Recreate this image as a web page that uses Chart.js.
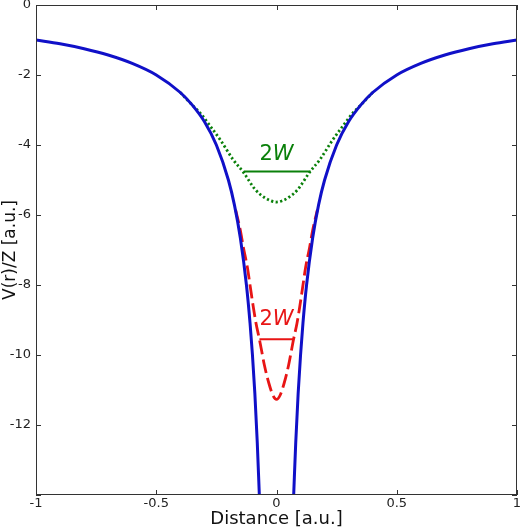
<!DOCTYPE html>
<html>
<head>
<meta charset="utf-8">
<script src="https://cdn.jsdelivr.net/npm/chart.js@4/dist/chart.umd.min.js"></script>
<style>
html, body { margin: 0; padding: 0; background: #fff; }
</style>
</head>
<body>
<canvas id="myChart" width="520" height="530"></canvas>
<script>
// Coulomb potential (left and right branch)
var blueLeftX = [-1, -0.9, -0.8, -0.7, -0.6, -0.5, -0.4, -0.35, -0.3, -0.25, -0.2, -0.175, -0.15, -0.125, -0.11, -0.1, -0.09, -0.08, -0.0714];
var blueLeftY = [-1, -1.11, -1.25, -1.43, -1.67, -2, -2.5, -2.86, -3.33, -4, -5, -5.71, -6.67, -8, -9.09, -10, -11.1, -12.5, -14];
var blueRightX = [0.0714, 0.08, 0.09, 0.1, 0.11, 0.125, 0.15, 0.175, 0.2, 0.25, 0.3, 0.35, 0.4, 0.5, 0.6, 0.7, 0.8, 0.9, 1];
var blueRightY = [-14, -12.5, -11.1, -10, -9.09, -8, -6.67, -5.71, -5, -4, -3.33, -2.86, -2.5, -2, -1.67, -1.43, -1.25, -1.11, -1];

// wide smeared nucleus (green dotted)
var greenX = [-0.4, -0.35, -0.317, -0.28, -0.233, -0.18, -0.1375, -0.0875, -0.05, -0.025, 0, 0.025, 0.05, 0.0875, 0.1375, 0.18, 0.233, 0.28, 0.317, 0.35, 0.4];
var greenY = [-2.5, -2.86, -3.09, -3.42, -3.86, -4.42, -4.78, -5.28, -5.5, -5.59, -5.63, -5.59, -5.5, -5.28, -4.78, -4.42, -3.86, -3.42, -3.09, -2.86, -2.5];

// narrow smeared nucleus (red dashed)
var redX = [-0.17, -0.15, -0.137, -0.121, -0.108, -0.096, -0.085, -0.071, -0.05, -0.032, -0.015, 0, 0.015, 0.032, 0.05, 0.071, 0.085, 0.096, 0.108, 0.121, 0.137, 0.15, 0.17];
var redY = [-5.85, -6.45, -6.95, -7.5, -8.1, -8.65, -9.1, -9.55, -10.3, -10.8, -11.15, -11.27, -11.15, -10.8, -10.3, -9.55, -9.1, -8.65, -8.1, -7.5, -6.95, -6.45, -5.85];

// 2W width markers
var greenBarX = [-0.136, 0.142];
var greenBarY = [-4.76, -4.76];
var redBarX = [-0.071, 0.072];
var redBarY = [-9.55, -9.55];

var xTicks = [-1, -0.5, 0, 0.5, 1];
var yTicks = [0, -2, -4, -6, -8, -10, -12, -14];

function toPoints(xs, ys) {
    return xs.map(function(x, i) { return { x: x, y: ys[i] }; });
}

var BLUE = '#1010c8';
var GREEN = '#0a800a';
var RED = '#e81515';

var frame = {
    id: 'frame',
    afterDraw: function(chart) {
        var ctx = chart.ctx;
        var a = chart.chartArea;
        var xs = chart.scales.x, ys = chart.scales.y;
        ctx.save();
        ctx.strokeStyle = '#333';
        ctx.lineWidth = 1;
        ctx.strokeRect(a.left + 0.5, a.top + 0.5, a.right - a.left - 1, a.bottom - a.top - 1);
        ctx.beginPath();
        xTicks.forEach(function(v) {
            var px = Math.round(xs.getPixelForValue(v)) + 0.5;
            ctx.moveTo(px, a.bottom); ctx.lineTo(px, a.bottom - 5);
            ctx.moveTo(px, a.top); ctx.lineTo(px, a.top + 5);
        });
        yTicks.forEach(function(v) {
            var py = Math.round(ys.getPixelForValue(v)) + 0.5;
            ctx.moveTo(a.left, py); ctx.lineTo(a.left + 5, py);
            ctx.moveTo(a.right, py); ctx.lineTo(a.right - 5, py);
        });
        ctx.stroke();

        // 2W labels
        function label2W(cx, cy, color) {
            ctx.fillStyle = color;
            ctx.textBaseline = 'middle';
            ctx.textAlign = 'left';
            var f1 = '21px "DejaVu Sans"', f2 = 'oblique 21px "DejaVu Sans"';
            ctx.font = f1; var w1 = ctx.measureText('2').width;
            ctx.font = f2; var w2 = ctx.measureText('W').width;
            var px = xs.getPixelForValue(cx) - (w1 + w2) / 2;
            var py = ys.getPixelForValue(cy) + 1;
            ctx.font = f1; ctx.fillText('2', px, py);
            ctx.font = f2; ctx.fillText('W', px + w1, py);
        }
        label2W(0, -4.24, GREEN);
        label2W(0, -8.95, RED);
        ctx.restore();
    }
};

var ctx = document.getElementById('myChart');
var myChart = new Chart(ctx, {
    type: 'scatter',
    data: {
        datasets: [{
            data: toPoints(greenBarX, greenBarY),
            borderColor: GREEN, borderWidth: 2, showLine: true, pointRadius: 0, order: 5
        }, {
            data: toPoints(redBarX, redBarY),
            borderColor: RED, borderWidth: 2, showLine: true, pointRadius: 0, order: 5
        }, {
            data: toPoints(greenX, greenY),
            borderColor: GREEN, borderWidth: 2.8, borderDash: [2.2, 2.4], showLine: true, pointRadius: 0,
            cubicInterpolationMode: 'monotone', order: 4
        }, {
            data: toPoints(redX, redY),
            borderColor: RED, borderWidth: 2.8, borderDash: [14, 5], showLine: true, pointRadius: 0,
            cubicInterpolationMode: 'monotone', order: 3
        }, {
            data: toPoints(blueLeftX, blueLeftY),
            borderColor: BLUE, borderWidth: 3, showLine: true, pointRadius: 0,
            cubicInterpolationMode: 'monotone', order: 1
        }, {
            data: toPoints(blueRightX, blueRightY),
            borderColor: BLUE, borderWidth: 3, showLine: true, pointRadius: 0,
            cubicInterpolationMode: 'monotone', order: 1
        }]
    },
    options: {
        responsive: false,
        animation: false,
        devicePixelRatio: 1,
        layout: { padding: { top: 5, right: 3, left: 0, bottom: 0 } },
        plugins: { legend: { display: false }, tooltip: { enabled: false } },
        scales: {
            x: {
                type: 'linear', min: -1, max: 1,
                afterFit: function(scale) {
                    scale.height = 35;
                    scale.paddingLeft = 0;
                    scale.paddingRight = 0;
                },
                afterBuildTicks: function(scale) { scale.ticks = xTicks.map(function(v) { return { value: v }; }); },
                grid: { display: false, drawTicks: false },
                border: { display: false },
                ticks: {
                    padding: 1, color: '#222', maxRotation: 0,
                    font: { family: 'DejaVu Sans', size: 13 },
                    callback: function(v) { return String(v); }
                },
                title: {
                    display: true, text: 'Distance [a.u.]', color: '#111',
                    font: { family: 'DejaVu Sans', size: 18 },
                    padding: { top: 3, bottom: 0 }
                }
            },
            y: {
                type: 'linear', min: -14, max: 0,
                afterFit: function(scale) {
                    scale.width = 36;
                    scale.paddingTop = 0;
                    scale.paddingBottom = 0;
                },
                afterBuildTicks: function(scale) { scale.ticks = yTicks.map(function(v) { return { value: v }; }); },
                grid: { display: false, drawTicks: false },
                border: { display: false },
                ticks: {
                    padding: 5, color: '#222',
                    font: { family: 'DejaVu Sans', size: 13 },
                    callback: function(v) { return v === -14 ? '' : String(v); }
                },
                title: {
                    display: true, text: 'V(r)/Z [a.u.]', color: '#111',
                    font: { family: 'DejaVu Sans', size: 17 },
                    padding: { top: 0, bottom: 0 }
                }
            }
        }
    },
    plugins: [frame]
});
</script>
</body>
</html>
